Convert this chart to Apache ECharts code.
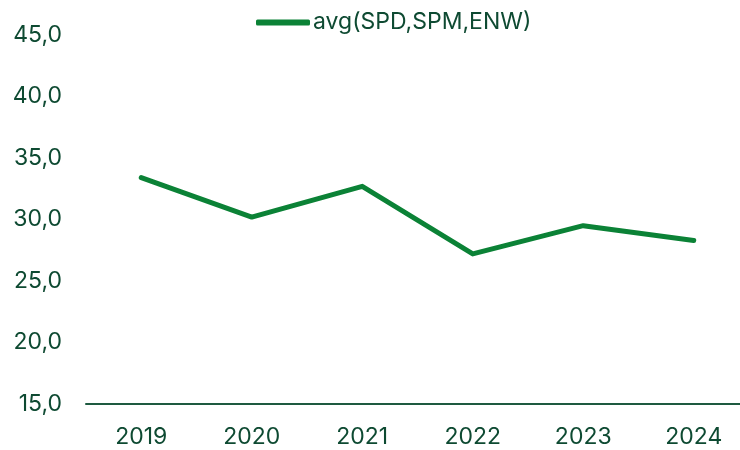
<!DOCTYPE html>
<html>
<head>
<meta charset="utf-8">
<script src="https://cdn.jsdelivr.net/npm/echarts@6/dist/echarts.min.js"></script>
<style>
  html, body { margin: 0; padding: 0; background: #fff; overflow: hidden; }
  /* plot runs a little past the right edge in the original, so the div is wider than the window */
  #chart { width: 749px; height: 450px; }
</style>
</head>
<body>
<div id="chart"></div>
<script>
const years = ['2019', '2020', '2021', '2022', '2023', '2024']
const avgValues = [33.4, 30.2, 32.7, 27.2, 29.5, 28.3]
const seriesName = 'avg(SPD,SPM,ENW)'

const textColor = '#0e4a32'
const lineColor = '#0b8236'

const chart = echarts.init(document.getElementById('chart'))

chart.setOption({
  animation: false,
  textStyle: { fontFamily: 'Inter, "Noto Sans", sans-serif' },
  legend: {
    left: 251,
    top: 6,
    itemWidth: 54,
    itemHeight: 6,
    itemGap: 6,
    icon: 'roundRect',
    textStyle: { color: textColor, fontSize: 23, padding: [0, 0, 0, -2] },
    data: [seriesName]
  },
  grid: {
    left: 86,
    right: 0,
    top: 35,
    bottom: 46
  },
  xAxis: {
    type: 'category',
    data: years,
    boundaryGap: true,
    axisLine: { lineStyle: { color: '#1e5a40', width: 2 } },
    axisTick: { show: false },
    axisLabel: { color: textColor, fontSize: 23, margin: 22 }
  },
  yAxis: {
    type: 'value',
    min: 15,
    max: 45,
    interval: 5,
    axisLine: { show: false },
    axisTick: { show: false },
    splitLine: { show: false },
    axisLabel: {
      color: textColor,
      fontSize: 23,
      margin: 24,
      formatter: (v) => v.toFixed(1).replace('.', ',')
    }
  },
  series: [
    {
      name: seriesName,
      type: 'line',
      data: avgValues,
      showSymbol: false,
      symbol: 'none',
      lineStyle: { color: lineColor, width: 5, cap: 'round', join: 'round' },
      itemStyle: { color: lineColor }
    }
  ]
})
</script>
</body>
</html>
